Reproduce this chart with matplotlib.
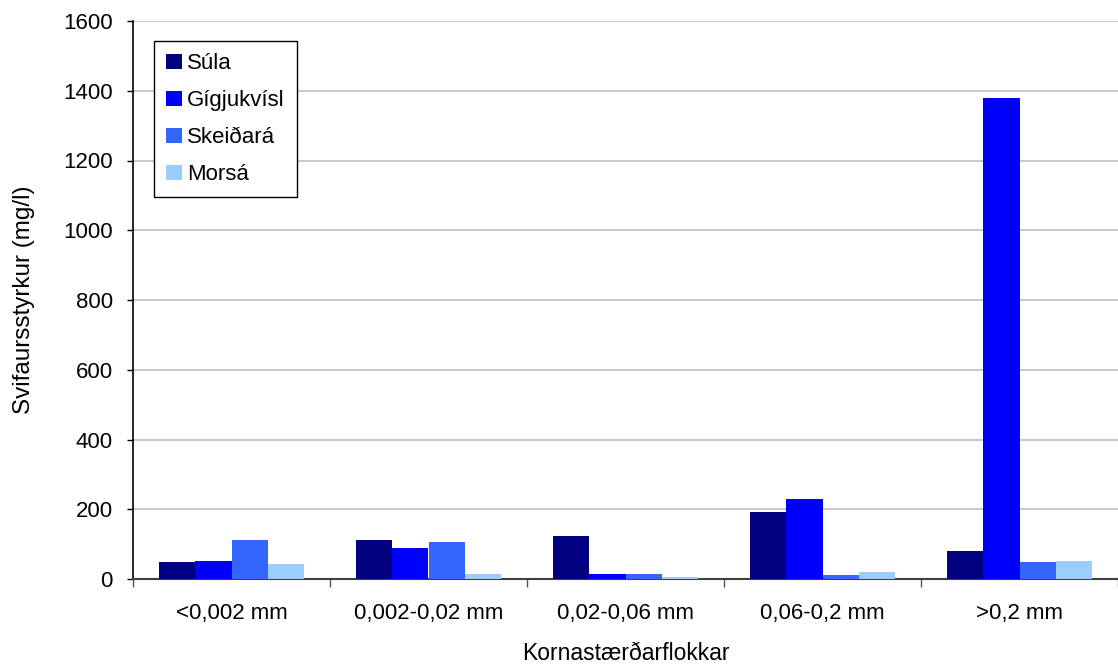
import matplotlib.pyplot as plt
import numpy as np

plt.rcParams['font.family'] = ['Liberation Sans', 'DejaVu Sans']

categories = ['<0,002 mm', '0,002-0,02 mm', '0,02-0,06 mm', '0,06-0,2 mm', '>0,2 mm']
sula = [49, 112, 123, 192, 80]
gigjukvisl = [52, 89, 14, 229, 1379]
skeidara = [112, 106, 14, 12, 49]
morsa = [43, 14, 6, 20, 52]

series = [('Súla', sula, '#000080'),
          ('Gígjukvísl', gigjukvisl, '#0000FF'),
          ('Skeiðará', skeidara, '#3366FF'),
          ('Morsá', morsa, '#99CCFF')]

fig = plt.figure(figsize=(11.18, 6.67), dpi=100)
ax = fig.add_axes([133/1118, 1-579/667, 1-133/1118, (579-21)/667])

x = np.arange(len(categories))
w = 0.183
for i, (name, vals, col) in enumerate(series):
    ax.bar(x + (i-1.5)*w, vals, w, color=col, label=name, zorder=3)

ax.set_xlim(-0.5, len(categories)-0.5)
ax.set_ylim(0, 1600)
ax.set_yticks(np.arange(0, 1601, 200))
ax.yaxis.grid(True, color='#c0c0c0', lw=1.2, zorder=0)
ax.set_xticks(x)
ax.set_xticklabels(categories)
ax.set_xticks(np.arange(-0.5, len(categories)), minor=True)
ax.tick_params(axis='x', which='major', length=0, pad=17, labelsize=16)
ax.tick_params(axis='x', which='minor', length=6, width=1, color='#555555')
ax.tick_params(axis='y', length=4.5, width=1, pad=10, labelsize=16)

for s in ['top', 'right']:
    ax.spines[s].set_visible(False)
ax.spines['left'].set_linewidth(1.2)
ax.spines['bottom'].set_color('#404040')
ax.spines['bottom'].set_linewidth(1.5)

ax.set_ylabel('Svifaursstyrkur (mg/l)', fontsize=17.5, labelpad=20)
ax.set_xlabel('Kornastærðarflokkar', fontsize=16.5, labelpad=13)

leg = ax.legend(loc='upper left', bbox_to_anchor=(21/985, 1-20/558), fontsize=16,
                borderaxespad=0,
                frameon=True, fancybox=False, edgecolor='black', framealpha=1,
                handlelength=0.7, handleheight=0.7, handletextpad=0.25,
                labelspacing=0.72, borderpad=0.55)
leg.get_frame().set_linewidth(1)

fig.savefig('out.png', dpi=100)
